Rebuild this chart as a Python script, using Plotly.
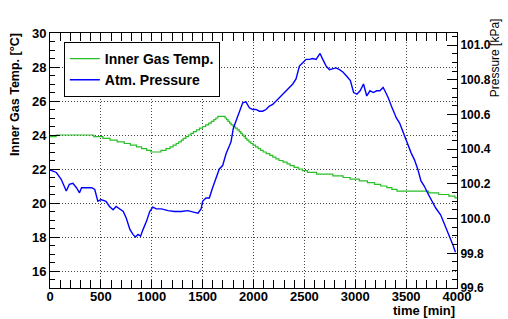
import plotly.graph_objects as go

# Inner gas temperature [degC] vs time [min] (stepwise, 0.1 degC resolution)
temp_time = [0, 60, 430, 520, 590, 660, 730, 790, 850, 900,
             950, 990, 1090, 1140, 1180, 1210, 1240, 1265, 1290, 1310,
             1335, 1360, 1385, 1410, 1440, 1470, 1500, 1530, 1560, 1585,
             1610, 1630, 1650, 1700, 1720, 1735, 1750, 1765, 1780, 1800,
             1820, 1840, 1860, 1875, 1890, 1905, 1920, 1935, 1955, 1975,
             1995, 2020, 2045, 2070, 2095, 2125, 2160, 2190, 2220, 2250,
             2290, 2330, 2360, 2400, 2440, 2480, 2530, 2620, 2780, 2880,
             2950, 3040, 3120, 3190, 3250, 3310, 3360, 3410, 3720, 3820,
             3920, 3980, 4000]
temp_vals = [23.9, 24.0, 23.9, 23.8, 23.7, 23.6, 23.5, 23.4, 23.3, 23.2,
             23.1, 23.0, 23.1, 23.2, 23.3, 23.4, 23.5, 23.6, 23.7, 23.8,
             23.9, 24.0, 24.1, 24.2, 24.3, 24.4, 24.5, 24.6, 24.7, 24.8,
             24.9, 25.0, 25.1, 25.1, 25.0, 24.9, 24.8, 24.7, 24.6, 24.5,
             24.4, 24.3, 24.2, 24.1, 24.0, 23.9, 23.8, 23.7, 23.6, 23.5,
             23.4, 23.3, 23.2, 23.1, 23.0, 22.9, 22.8, 22.7, 22.6, 22.5,
             22.4, 22.3, 22.2, 22.1, 22.0, 21.9, 21.8, 21.7, 21.6, 21.5,
             21.4, 21.3, 21.2, 21.1, 21.0, 20.9, 20.8, 20.7, 20.6, 20.5,
             20.4, 20.3, 20.3]

# Atmospheric pressure [kPa] vs time [min]
pres_time = [0, 62, 110, 160, 190, 225, 260, 290, 310, 360, 410, 440, 470, 500, 550, 585, 620, 650,
             690, 720, 750, 785, 815, 840, 865, 890, 915, 950, 980, 1010, 1045, 1095, 1160, 1225,
             1290, 1355, 1420, 1455, 1485, 1500, 1533, 1566, 1598, 1631, 1664, 1697, 1730, 1762,
             1779, 1802, 1828, 1861, 1894, 1926, 1959, 1992, 2025, 2058, 2090, 2123, 2156, 2189,
             2222, 2254, 2287, 2320, 2353, 2386, 2418, 2451, 2484, 2517, 2550, 2582, 2615, 2654,
             2681, 2714, 2746, 2779, 2812, 2845, 2878, 2910, 2952, 2984, 3016, 3048, 3081, 3113,
             3145, 3178, 3210, 3242, 3274, 3291, 3323, 3355, 3404, 3436, 3468, 3500, 3517, 3549,
             3581, 3614, 3646, 3678, 3710, 3759, 3791, 3840, 3872, 3904, 3937, 3959, 3985]
pres_vals = [100.281, 100.266, 100.227, 100.159, 100.198, 100.203, 100.178, 100.149, 100.178, 100.178,
             100.178, 100.168, 100.100, 100.110, 100.100, 100.070, 100.051, 100.070, 100.051, 100.041,
             100.002, 99.938, 99.909, 99.894, 99.909, 99.899, 99.938, 99.987, 100.041, 100.066,
             100.056, 100.056, 100.046, 100.041, 100.041, 100.046, 100.036, 100.031, 100.056, 100.100,
             100.119, 100.119, 100.178, 100.237, 100.286, 100.306, 100.374, 100.418, 100.443, 100.521,
             100.560, 100.619, 100.668, 100.673, 100.639, 100.629, 100.629, 100.619, 100.619, 100.629,
             100.649, 100.658, 100.678, 100.698, 100.717, 100.737, 100.756, 100.776, 100.805, 100.879,
             100.899, 100.918, 100.918, 100.923, 100.918, 100.952, 100.918, 100.879, 100.859, 100.864,
             100.869, 100.859, 100.845, 100.825, 100.796, 100.727, 100.717, 100.737, 100.776, 100.707,
             100.737, 100.727, 100.737, 100.737, 100.756, 100.737, 100.698, 100.649, 100.580, 100.551,
             100.502, 100.443, 100.418, 100.379, 100.340, 100.286, 100.217, 100.188, 100.149, 100.100,
             100.061, 100.021, 99.977, 99.928, 99.889, 99.850, 99.806]

GREEN = "rgb(40,190,40)"
BLUE = "rgb(0,0,255)"
FONT = "Liberation Sans"
GRID = "rgb(70,70,70)"

fig = go.Figure()
fig.add_trace(go.Scatter(x=temp_time, y=temp_vals, mode="lines", line=dict(color=GREEN, width=1.2, shape="hv"),
                         name="Inner Gas Temp."))
fig.add_trace(go.Scatter(x=pres_time, y=pres_vals, mode="lines", line=dict(color=BLUE, width=1.4),
                         name="Atm. Pressure", yaxis="y2"))

axis_common = dict(showline=True, linecolor="black", linewidth=1, ticks="inside", tickcolor="black",
                   zeroline=False, automargin=False)

fig.update_layout(
    width=508, height=319,
    margin=dict(l=50, r=51, t=33, b=31, autoexpand=False),
    paper_bgcolor="white", plot_bgcolor="white",
    font=dict(family=FONT, color="black"),
    xaxis=dict(range=[0, 4000], dtick=500, tick0=0, ticklen=8, mirror="allticks",
               showgrid=True, gridcolor=GRID, griddash="1px,2px", gridwidth=1,
               ticklabelstandoff=-4,
               tickfont=dict(size=13, family=FONT, weight="bold"),
               minor=dict(dtick=100, ticklen=4, ticks="inside", tickcolor="black", showgrid=False),
               **axis_common),
    yaxis=dict(range=[15, 30], dtick=2, tick0=0, ticklen=10,
               showgrid=True, gridcolor=GRID, griddash="1px,2px", gridwidth=1,
               tickfont=dict(size=13, family=FONT, weight="bold"),
               minor=dict(dtick=0.5, ticklen=5, ticks="inside", tickcolor="black", showgrid=False),
               **axis_common),
    yaxis2=dict(range=[99.6, 101.07], dtick=0.2, tick0=99.6, ticklen=10, overlaying="y", side="right",
                showgrid=False, tickformat=".1f", ticklabelstandoff=0,
                tickfont=dict(size=12, family=FONT, weight="bold"),
                minor=dict(dtick=0.05, ticklen=5, ticks="inside", tickcolor="black", showgrid=False),
                **axis_common),
    legend=dict(x=0.034, y=0.965, xanchor="left", yanchor="top", bgcolor="white",
                bordercolor="black", borderwidth=1, itemwidth=30,
                font=dict(size=14, family=FONT, weight="bold")),
    showlegend=True,
)

fig.add_annotation(text="Inner Gas Temp. [°C]", xref="paper", yref="paper", x=-0.086, y=0.761,
                   xanchor="center", yanchor="middle", textangle=-90, showarrow=False,
                   font=dict(size=12.5, family=FONT, weight="bold"))
fig.add_annotation(text="Pressure [kPa]", xref="paper", yref="paper", x=1.094, y=0.902,
                   xanchor="center", yanchor="middle", textangle=-90, showarrow=False,
                   font=dict(size=12, family=FONT))
fig.add_annotation(text="time [min]", xref="paper", yref="paper", x=1.0, y=-0.09,
                   xanchor="right", yanchor="middle", showarrow=False,
                   font=dict(size=13, family=FONT, weight="bold"))

fig.write_html("out.html", config={"displayModeBar": False},
               post_script="document.body.style.margin='0px';document.body.style.overflow='hidden';")
